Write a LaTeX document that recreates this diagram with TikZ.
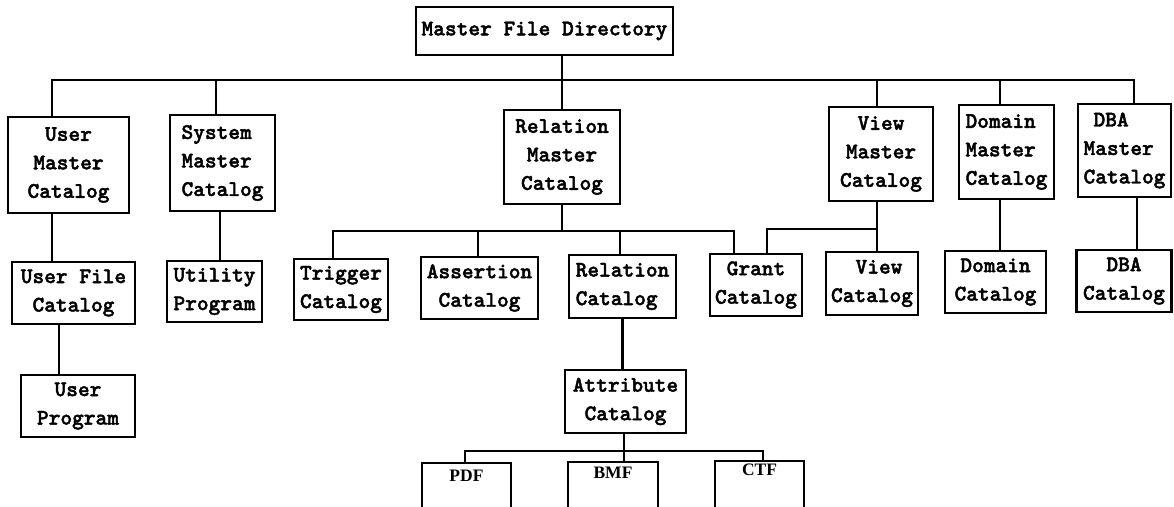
\documentclass[tikz,border=0pt]{standalone}
\usepackage{fontspec}
\newfontfamily\cserif{Liberation Serif}
\newfontfamily\lmtb{lmmonolt10-bold.otf}[FakeBold=1.8]
\newcommand\boxfont{\lmtb\fontsize{22.3}{28.5}\selectfont}
\newcommand\smallserif{\cserif\bfseries\fontsize{17.5}{19}\selectfont}
\begin{document}
\begin{tikzpicture}[x=1pt,y=-1pt,
  box/.style={draw,line width=2.3pt,inner sep=0pt,font=\boxfont,align=center},
  sbox/.style={draw,line width=2.3pt,inner sep=0pt},
  toplabel/.style={anchor=north,font=\smallserif,yshift=-5pt},
  conn/.style={line width=2.2pt}]
\useasboundingbox (0,0) rectangle (1174,506);
\clip (0,0) rectangle (1174,506);
\fill[white] (0,0) rectangle (1174,506);

% level 0
\node[box,minimum width=257pt,minimum height=48pt] (mfd) at (544.5,31) {Master File Directory};

% level 1
\node[box,minimum width=121pt,minimum height=96pt] (umc) at (68.5,165) {User\\Master\\Catalog};
\node[box,align=left,minimum width=105pt,minimum height=96pt] (smc) at (222.5,163) {System\\Master\\Catalog};
\node[box,minimum width=116pt,minimum height=94pt] (rmc) at (562,157) {Relation\\Master\\Catalog};
\node[box,minimum width=104pt,minimum height=94pt] (vmc) at (881,154) {View\\Master\\Catalog};
\node[box,align=left,minimum width=95pt,minimum height=94pt] (dmc) at (1006.5,152) {Domain\\Master\\Catalog};
\node[box,align=left,minimum width=93pt,minimum height=93pt] (dbm) at (1124.5,150.5) {\hspace{10pt}DBA\\Master\\Catalog};

% level 2
\node[box,minimum width=123pt,minimum height=62pt] (ufc) at (73.5,293) {User File\\Catalog};
\node[box,minimum width=95pt,minimum height=61pt] (utl) at (214.5,291.5) {Utility\\Program};
\node[box,minimum width=94pt,minimum height=61pt] (trg) at (341,289.5) {Trigger\\Catalog};
\node[box,minimum width=117pt,minimum height=62pt] (asr) at (479.5,288) {Assertion\\Catalog};
\node[box,align=left,minimum width=107pt,minimum height=63pt] (rc) at (622.5,286.5) {Relation\\Catalog};
\node[box,minimum width=92pt,minimum height=62pt] (grt) at (756,285) {Grant\\Catalog};
\node[box,minimum width=92pt,minimum height=63pt] (vct) at (872,283.5) {\hspace{14pt}View\\Catalog};
\node[box,minimum width=101pt,minimum height=62pt] (dct) at (995.5,282) {Domain\\Catalog};
\node[box,minimum width=95pt,minimum height=62pt] (dbc) at (1124,281) {DBA\\Catalog};

% level 3
\node[box,minimum width=114pt,minimum height=62pt] (usp) at (78,406) {User\\Program};
\node[box,minimum width=121pt,minimum height=63pt] (att) at (625.5,401.5) {Attribute\\Catalog};

% level 4 (cut by the page edge)
\node[sbox,minimum width=89pt,minimum height=80pt,label={[toplabel]north:PDF}] (pdf) at (466.5,503) {};
\node[sbox,minimum width=90pt,minimum height=80pt,label={[toplabel,yshift=2pt]north:BMF}] (bmf) at (613,502) {};
\node[sbox,minimum width=89pt,minimum height=80pt,label={[toplabel,yshift=4pt]north:CTF}] (ctf) at (759.5,501) {};

% bus coordinates
\coordinate (busL) at (52,80);
\coordinate (busR) at (1134,80);
\coordinate (rbusL) at (333,231);
\coordinate (rbusR) at (734,231);
\coordinate (vbus) at (767,229);
\coordinate (abusL) at (465,451);
\coordinate (abusR) at (763,451);

% connectors
\draw[conn] (mfd.south -| rmc.north) -- (rmc.north);
\draw[conn] ([xshift=-16.5pt]umc.north) -- (busL) -- (busR) -- ([xshift=9.5pt]dbm.north);
\draw[conn] ([xshift=-6.5pt]smc.north) -- ([xshift=-6.5pt]smc.north |- busL);
\draw[conn] ([xshift=-4pt]vmc.north) -- ([xshift=-4pt]vmc.north |- busL);
\draw[conn] ([xshift=-6.5pt]dmc.north) -- ([xshift=-6.5pt]dmc.north |- busL);

\draw[conn] ([xshift=-16.5pt]umc.south) -- ([xshift=-16.5pt]umc.south |- ufc.north);
\draw[conn] ([xshift=-14.5pt]ufc.south) -- ([xshift=-14.5pt]ufc.south |- usp.north);
\draw[conn] ([xshift=-2.5pt]smc.south) -- ([xshift=-2.5pt]smc.south |- utl.north);

\draw[conn] (rmc.south) -- (rmc.south |- rbusL);
\draw[conn] ([xshift=-8pt]trg.north) -- (rbusL) -- (rbusR) -- ([xshift=-22pt]grt.north);
\draw[conn] ([xshift=-1.5pt]asr.north) -- ([xshift=-1.5pt]asr.north |- rbusL);
\draw[conn] ([xshift=-2.5pt]rc.north) -- ([xshift=-2.5pt]rc.north |- rbusL);

\draw[conn] ([xshift=-4pt]vmc.south) -- ([xshift=-4pt]vmc.south |- vct.north);
\draw[conn] ([xshift=11pt]grt.north) -- (vbus) -- ([xshift=-4pt]vmc.south |- vbus);

\draw[conn] ([xshift=4.5pt]dct.north) -- ([xshift=4.5pt]dct.north |- dmc.south);
\draw[conn] ([xshift=13pt]dbc.north) -- ([xshift=13pt]dbc.north |- dbm.south);

\draw[conn] ([xshift=-3pt]att.north) -- ([xshift=-3pt]att.north |- rc.south);
\draw[conn] ([xshift=-1.5pt]att.south) -- ([xshift=-1.5pt]att.south |- abusL);
\draw[conn] ([xshift=-1.5pt]pdf.north) -- (abusL) -- (abusR) -- ([xshift=3.5pt]ctf.north);
\draw[conn] ([xshift=11pt]bmf.north) -- ([xshift=11pt]bmf.north |- abusL);
\end{tikzpicture}
\end{document}
